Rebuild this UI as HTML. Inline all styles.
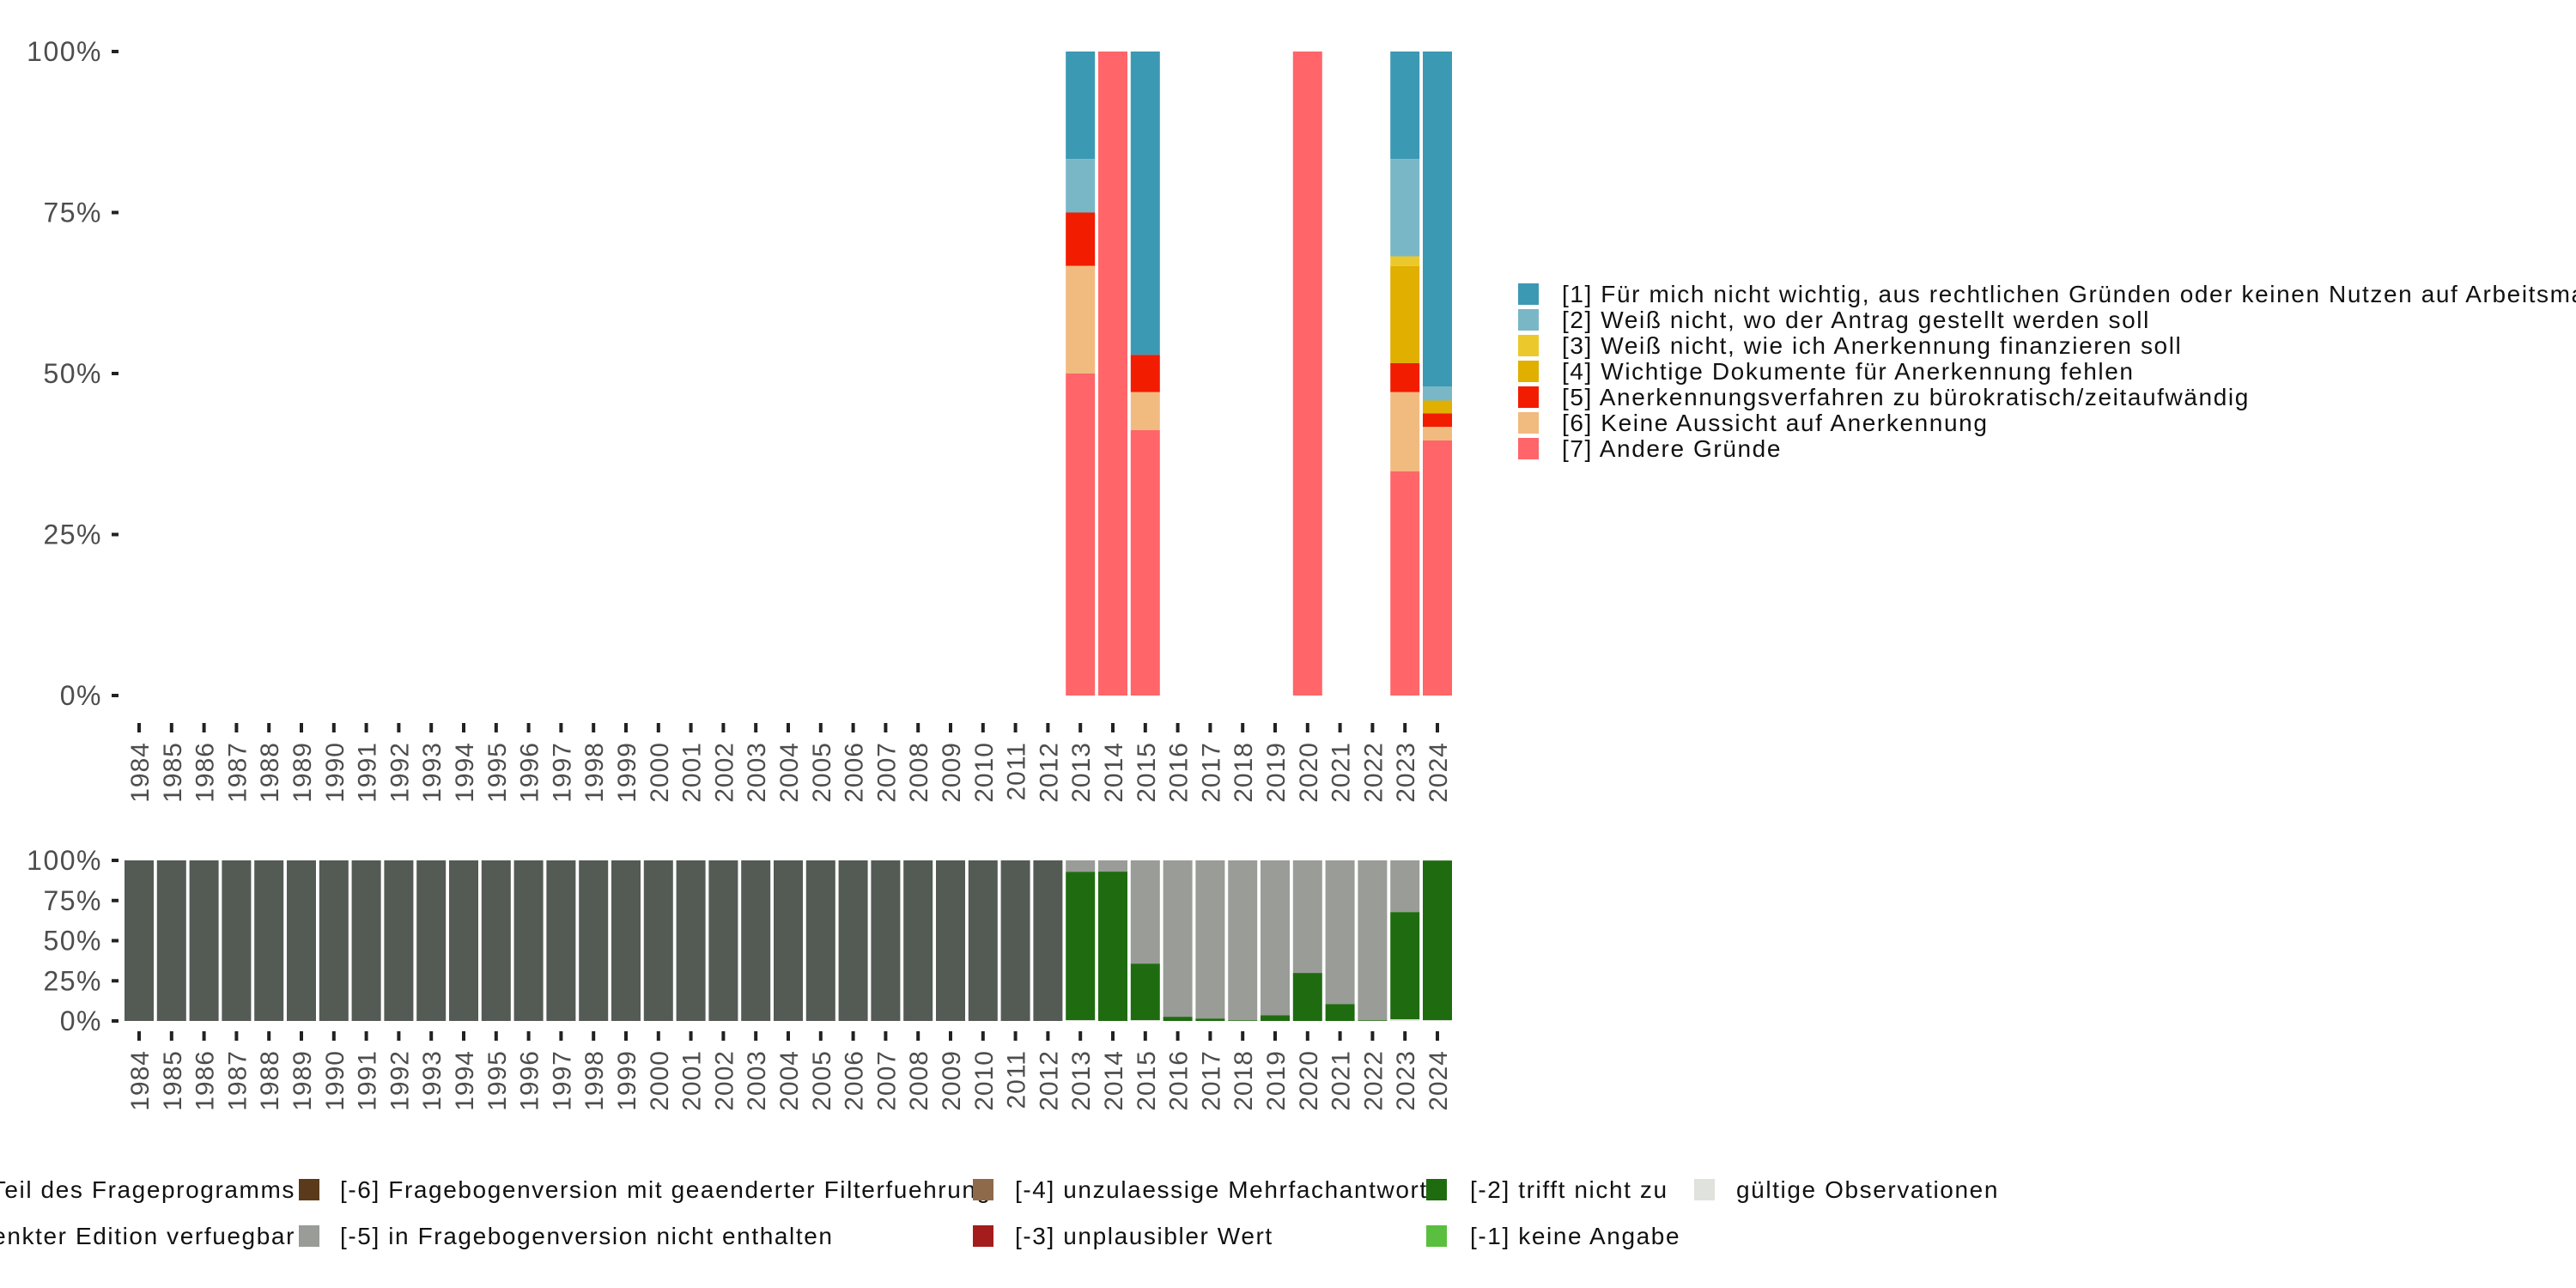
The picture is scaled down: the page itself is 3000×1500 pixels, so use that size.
<!DOCTYPE html>
<html><head><meta charset="utf-8"><style>
html,body{margin:0;padding:0;background:#fff;width:3000px;height:1500px;overflow:hidden}
svg{display:block;font-family:"Liberation Sans","Noto Sans CJK SC",sans-serif}
</style></head><body>
<svg id="chart" width="3000" height="1500" viewBox="0 0 3000 1500">
<g id="top"></g>
<g id="bottom"></g>
<g id="legR"></g>
<g id="legB"></g>
</svg>
<script>
const years = [];
for (let y = 1984; y <= 2024; y++) years.push(y);
const topCats = ["[1] Für mich nicht wichtig, aus rechtlichen Gründen oder keinen Nutzen auf Arbeitsmarkt","[2] Weiß nicht, wo der Antrag gestellt werden soll","[3] Weiß nicht, wie ich Anerkennung finanzieren soll","[4] Wichtige Dokumente für Anerkennung fehlen","[5] Anerkennungsverfahren zu bürokratisch/zeitaufwändig","[6] Keine Aussicht auf Anerkennung","[7] Andere Gründe"];
const topColors = ["#3c99b3","#7ab7c6","#ebc92c","#e0af00","#f21c00","#f1bb7f","#ff6569"];
const topYears = [2013, 2014, 2015, 2020, 2023, 2024];
const s1 = [16.7, 0, 47.1, 0, 16.7, 52.0];
const s2 = [8.3, 0, 0, 0, 15.1, 2.2];
const s3 = [0, 0, 0, 0, 1.5, 0];
const s4 = [0, 0, 0, 0, 15.1, 2.0];
const s5 = [8.3, 0, 5.8, 0, 4.5, 2.1];
const s6 = [16.7, 0, 5.9, 0, 12.3, 2.1];
const s7 = [50, 100, 41.2, 100, 34.8, 39.6];
const topSeries = [s1, s2, s3, s4, s5, s6, s7];
const yTicks = [0, 25, 50, 75, 100];
const yTickLabels = ["0%", "25%", "50%", "75%", "100%"];
const botDark = [];
for (let y = 1984; y <= 2012; y++) botDark.push(100);
const botYears = [2013,2014,2015,2016,2017,2018,2019,2020,2021,2022,2023,2024];
const botGreen = [92.4, 93.0, 35.2, 2.6, 1.5, 0.4, 3.5, 29.9, 10.5, 0.4, 66.8, 99.4];
const botValid = [0.5, 0, 0.5, 0, 0, 0, 0, 0, 0, 0, 1.0, 0.5];

const NS = "http://www.w3.org/2000/svg";
function mk(parent, tag, attrs, text) {
  const e = document.createElementNS(NS, tag);
  for (const k in attrs) e.setAttribute(k, attrs[k]);
  if (text !== undefined) e.textContent = text;
  parent.appendChild(e);
  return e;
}
const x0 = 162, pitch = 37.8, bw = 34;
function xc(year) { return x0 + (year - 1984) * pitch; }

function panel(g, top, bot, tickY0, labY0) {
  const ys = v => bot - v / 100 * (bot - top);
  yTicks.forEach((t, i) => {
    const l = mk(g, "line", {x1: 130, x2: 138, y1: ys(t), y2: ys(t), stroke: "#222", "stroke-width": 4});
    
    
    const tx = mk(g, "text", {x: 119, y: ys(t) + 11, "text-anchor": "end", "font-size": 32, "letter-spacing": 1.5, fill: "#4d4d4d"}, yTickLabels[i]);
    
    
  });
  years.forEach(y => {
    const l = mk(g, "line", {x1: xc(y), x2: xc(y), y1: tickY0, y2: tickY0 + 11, stroke: "#222", "stroke-width": 4});
    
    
    const tx = mk(g, "text", {x: 0, y: 0, "text-anchor": "end", "font-size": 30, "letter-spacing": 1, fill: "#4d4d4d",
      transform: `translate(${xc(y) + 11},${labY0}) rotate(-90)`}, String(y));
    
    
  });
  return ys;
}

const gT = document.getElementById("top");
const ysT = panel(gT, 60, 810, 842, 864);
topYears.forEach((yr, j) => {
  let cum = 100;
  topSeries.forEach((ser, k) => {
    const v = ser[j];
    if (v <= 0) return;
    const r = mk(gT, "rect", {x: xc(yr) - bw / 2, y: ysT(cum), width: bw, height: ysT(cum - v) - ysT(cum), fill: topColors[k]});
    
    
    cum -= v;
  });
});

const gB = document.getElementById("bottom");
const ysB = panel(gB, 1002, 1189, 1201, 1223);
botDark.forEach((v, i) => {
  const yr = 1984 + i;
  const r = mk(gB, "rect", {x: xc(yr) - bw / 2, y: ysB(v), width: bw, height: ysB(0) - ysB(v), fill: "#545a54"});
  
  
});
botYears.forEach((yr, j) => {
  const g = botGreen[j], va = botValid[j], gr = 100 - g - va;
  const r1 = mk(gB, "rect", {x: xc(yr) - bw / 2, y: ysB(100), width: bw, height: ysB(100 - gr) - ysB(100), fill: "#999c97"});
  
  
  const r2 = mk(gB, "rect", {x: xc(yr) - bw / 2, y: ysB(g + va), width: bw, height: ysB(va) - ysB(g + va), fill: "#1f6c10"});
  
  
  if (va > 0) {
    const r3 = mk(gB, "rect", {x: xc(yr) - bw / 2, y: ysB(va), width: bw, height: ysB(0) - ysB(va), fill: "#e0e2dd"});
    
    
  }
});

const gR = document.getElementById("legR");
topCats.forEach((c, k) => {
  const cy = 342 + k * 30;
  const s = mk(gR, "rect", {x: 1768, y: cy - 12, width: 24, height: 25, fill: topColors[k]});
  
  
  const t = mk(gR, "text", {x: 1819, y: cy + 10, "font-size": 28, "letter-spacing": 1.6, fill: "#111"}, c);
  
  
});

const gL = document.getElementById("legB");
const botLeg = [
  {sx: null, tx: 344, y: 1385, anchor: "end", col: null, label: "[-8] Frage in diesem Jahr nicht Teil des Frageprogramms"},
  {sx: null, tx: 344, y: 1439, anchor: "end", col: null, label: "[-7] Nur in weniger eingeschraenkter Edition verfuegbar"},
  {sx: 348, tx: 396, y: 1385, col: "#5a3a1a", label: "[-6] Fragebogenversion mit geaenderter Filterfuehrung"},
  {sx: 348, tx: 396, y: 1439, col: "#999c97", label: "[-5] in Fragebogenversion nicht enthalten"},
  {sx: 1133, tx: 1182, y: 1385, col: "#8e6a4a", label: "[-4] unzulaessige Mehrfachantwort"},
  {sx: 1133, tx: 1182, y: 1439, col: "#a51c1c", label: "[-3] unplausibler Wert"},
  {sx: 1661, tx: 1712, y: 1385, col: "#1f6c10", label: "[-2] trifft nicht zu"},
  {sx: 1661, tx: 1712, y: 1439, col: "#5abf3e", label: "[-1] keine Angabe"},
  {sx: 1973, tx: 2022, y: 1385, col: "#e0e2dd", label: "gültige Observationen"}
];
botLeg.forEach(it => {
  if (it.sx !== null) {
    const s = mk(gL, "rect", {x: it.sx, y: it.y - 12, width: 24, height: 25, fill: it.col});
    
    
  }
  const t = mk(gL, "text", {x: it.tx, y: it.y + 10, "font-size": 28, "letter-spacing": 1.6, fill: "#111", "text-anchor": it.anchor || "start"}, it.label);
  
  
});
</script>
</body></html>
